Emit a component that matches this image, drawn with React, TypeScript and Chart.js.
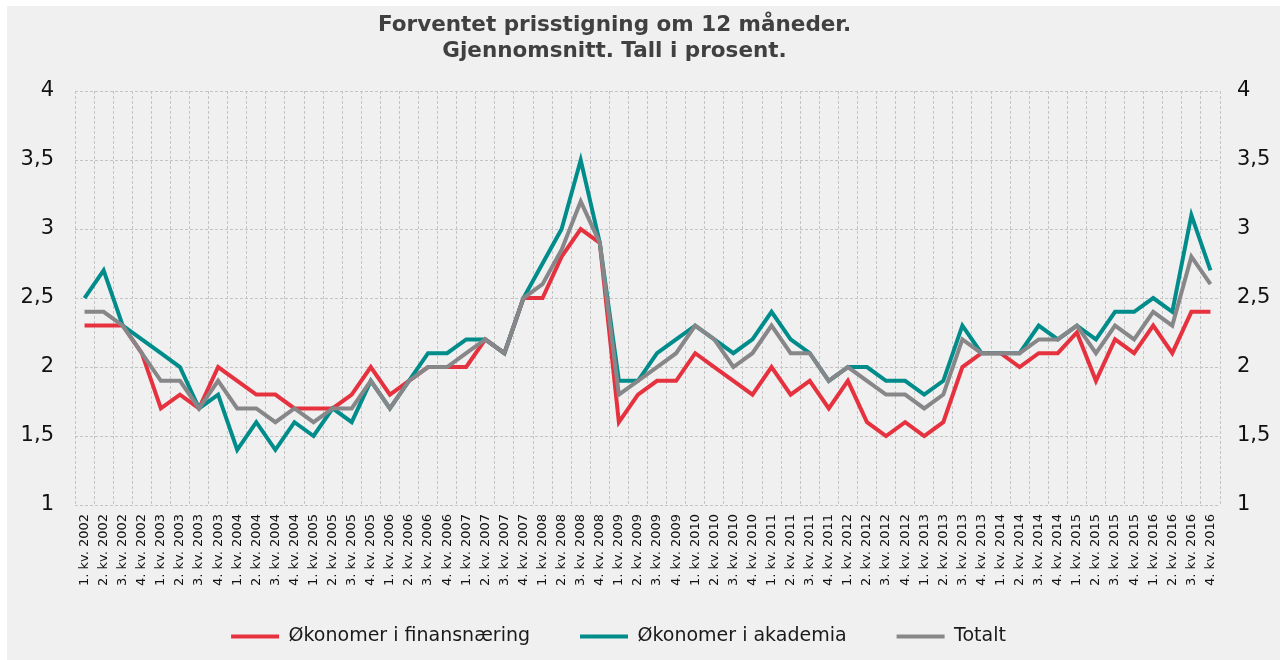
import { useEffect, useRef } from "react";
import { Chart, registerables } from "chart.js";

Chart.register(...registerables);

const categories = [
  "1. kv. 2002", "2. kv. 2002", "3. kv. 2002", "4. kv. 2002",
  "1. kv. 2003", "2. kv. 2003", "3. kv. 2003", "4. kv. 2003",
  "1. kv. 2004", "2. kv. 2004", "3. kv. 2004", "4. kv. 2004",
  "1. kv. 2005", "2. kv. 2005", "3. kv. 2005", "4. kv. 2005",
  "1. kv. 2006", "2. kv. 2006", "3. kv. 2006", "4. kv. 2006",
  "1. kv. 2007", "2. kv. 2007", "3. kv. 2007", "4. kv. 2007",
  "1. kv. 2008", "2. kv. 2008", "3. kv. 2008", "4. kv. 2008",
  "1. kv. 2009", "2. kv. 2009", "3. kv. 2009", "4. kv. 2009",
  "1. kv. 2010", "2. kv. 2010", "3. kv. 2010", "4. kv. 2010",
  "1. kv. 2011", "2. kv. 2011", "3. kv. 2011", "4. kv. 2011",
  "1. kv. 2012", "2. kv. 2012", "3. kv. 2012", "4. kv. 2012",
  "1. kv. 2013", "2. kv. 2013", "3. kv. 2013", "4. kv. 2013",
  "1. kv. 2014", "2. kv. 2014", "3. kv. 2014", "4. kv. 2014",
  "1. kv. 2015", "2. kv. 2015", "3. kv. 2015", "4. kv. 2015",
  "1. kv. 2016", "2. kv. 2016", "3. kv. 2016", "4. kv. 2016",
];

const finans = [
  2.3, 2.3, 2.3, 2.1, 1.7, 1.8, 1.7, 2.0, 1.9, 1.8, 1.8, 1.7, 1.7, 1.7, 1.8,
  2.0, 1.8, 1.9, 2.0, 2.0, 2.0, 2.2, 2.1, 2.5, 2.5, 2.8, 3.0, 2.9, 1.6, 1.8,
  1.9, 1.9, 2.1, 2.0, 1.9, 1.8, 2.0, 1.8, 1.9, 1.7, 1.9, 1.6, 1.5, 1.6, 1.5,
  1.6, 2.0, 2.1, 2.1, 2.0, 2.1, 2.1, 2.25, 1.9, 2.2, 2.1, 2.3, 2.1, 2.4, 2.4,
];

const akademia = [
  2.5, 2.7, 2.3, 2.2, 2.1, 2.0, 1.7, 1.8, 1.4, 1.6, 1.4, 1.6, 1.5, 1.7, 1.6,
  1.9, 1.7, 1.9, 2.1, 2.1, 2.2, 2.2, 2.1, 2.5, 2.75, 3.0, 3.5, 2.9, 1.9, 1.9,
  2.1, 2.2, 2.3, 2.2, 2.1, 2.2, 2.4, 2.2, 2.1, 1.9, 2.0, 2.0, 1.9, 1.9, 1.8,
  1.9, 2.3, 2.1, 2.1, 2.1, 2.3, 2.2, 2.3, 2.2, 2.4, 2.4, 2.5, 2.4, 3.1, 2.7,
];

const totalt = [
  2.4, 2.4, 2.3, 2.1, 1.9, 1.9, 1.7, 1.9, 1.7, 1.7, 1.6, 1.7, 1.6, 1.7, 1.7,
  1.9, 1.7, 1.9, 2.0, 2.0, 2.1, 2.2, 2.1, 2.5, 2.6, 2.85, 3.2, 2.9, 1.8, 1.9,
  2.0, 2.1, 2.3, 2.2, 2.0, 2.1, 2.3, 2.1, 2.1, 1.9, 2.0, 1.9, 1.8, 1.8, 1.7,
  1.8, 2.2, 2.1, 2.1, 2.1, 2.2, 2.2, 2.3, 2.1, 2.3, 2.2, 2.4, 2.3, 2.8, 2.6,
];

const yTicks = [1, 1.5, 2, 2.5, 3, 3.5, 4];
const titleLines = ["Forventet prisstigning om 12 måneder.", "Gjennomsnitt. Tall i prosent."];
const seriesNames = ["Økonomer i finansnæring", "Økonomer i akademia", "Totalt"];
const seriesColors = ["#e6323f", "#008c8a", "#87878a"];

const FONT = "'DejaVu Sans', Verdana, sans-serif";
const GRID = "#c4c4c4";

export default function App() {
  const ref = useRef<HTMLCanvasElement>(null);

  useEffect(() => {
    document.body.style.margin = "0";
    const shiftPlugin = {
      id: "shiftBlocks",
      afterLayout(chart: any) {
        if (chart.titleBlock) {
          chart.titleBlock.left -= 29;
          chart.titleBlock.right -= 29;
        }
        if (chart.legend) {
          chart.legend.left -= 25;
          chart.legend.right -= 25;
        }
      },
    };

    const fmt = (v: any) => String(v).replace(".", ",");
    const setTicks = (scale: any) => {
      scale.ticks = yTicks.map((v) => ({ value: v }));
    };

    const chart = new Chart(ref.current!, {
      type: "line",
      data: {
        labels: categories,
        datasets: [
          { label: seriesNames[0], data: finans, order: 2 },
          { label: seriesNames[1], data: akademia, order: 1 },
          { label: seriesNames[2], data: totalt, order: 0 },
        ].map((d, i) => ({
          ...d,
          borderColor: seriesColors[i],
          backgroundColor: seriesColors[i],
          borderWidth: 4,
          pointRadius: 0,
          pointHoverRadius: 0,
          tension: 0,
          fill: false,
        })),
      },
      options: {
        animation: false,
        responsive: false,
        events: [],
        layout: { padding: { left: 0, right: 0, top: 0, bottom: 4 } },
        plugins: {
          tooltip: { enabled: false },
          title: {
            display: true,
            text: titleLines,
            color: "#404040",
            font: { family: FONT, size: 21.5, weight: "bold", lineHeight: 1.21 },
            padding: { top: 6.5, bottom: 26.5 },
          },
          legend: {
            position: "bottom",
            labels: {
              boxWidth: 48,
              boxHeight: 4,
              padding: 50,
              color: "#1a1a1a",
              font: { family: FONT, size: 19 },
              generateLabels: (c: any) =>
                (Chart.defaults.plugins.legend.labels as any)
                  .generateLabels(c)
                  .map((l: any) => ({ ...l, lineWidth: 0, fillStyle: l.strokeStyle })),
              sort: (a: any, b: any) => a.datasetIndex - b.datasetIndex,
            },
          },
        },
        scales: {
          x: {
            type: "category",
            offset: true,
            grid: {
              display: true,
              offset: true,
              color: GRID,
              lineWidth: 1,
              drawTicks: false,
              borderDash: [3, 2],
            } as any,
            border: { display: false, dash: [3, 2] },
            ticks: {
              autoSkip: false,
              minRotation: 90,
              maxRotation: 90,
              padding: 9,
              color: "#111",
              font: { family: FONT, size: 13 },
            },
            afterFit: (s: any) => {
              s.height = 72;
              s._computeLabelArea = () => undefined;
            },
          },
          y: {
            position: "left",
            min: 1,
            max: 4,
            afterBuildTicks: setTicks,
            grid: {
              color: GRID,
              lineWidth: 1,
              drawTicks: false,
              borderDash: [3, 2],
            } as any,
            border: { display: false, dash: [3, 2] },
            ticks: {
              padding: 21,
              color: "#111",
              font: { family: FONT, size: 21 },
              callback: fmt,
            },
            afterFit: (s: any) => {
              s.width = 68;
            },
          },
          y2: {
            position: "right",
            min: 1,
            max: 4,
            afterBuildTicks: setTicks,
            grid: { display: false, drawTicks: false },
            border: { display: false },
            ticks: {
              padding: 17,
              color: "#111",
              font: { family: FONT, size: 21 },
              callback: fmt,
            },
            afterFit: (s: any) => {
              s.width = 60;
            },
          },
        },
      } as any,
      plugins: [shiftPlugin],
    });
    return () => chart.destroy();
  }, []);

  return (
    <div
      style={{
        position: "absolute",
        left: 7,
        top: 6,
        width: 1273,
        height: 654,
        background: "#f0f0f0",
      }}
    >
      <canvas ref={ref} width={1273} height={654} style={{ display: "block" }} />
    </div>
  );
}
